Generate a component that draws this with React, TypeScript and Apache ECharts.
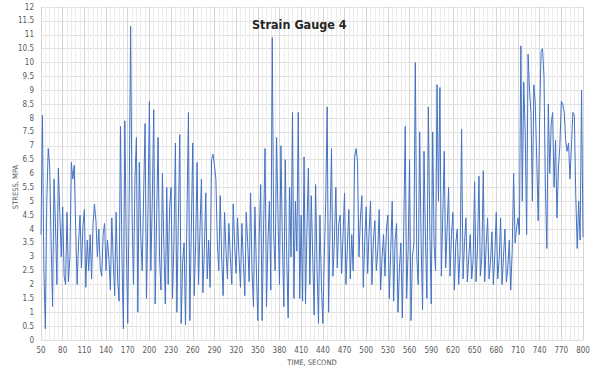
import React, { useEffect, useRef } from "react";
import * as echarts from "echarts";

// Time starts at 50 s, one reading every 2 s, up to 800 s
const startTime = 50;
const stepSeconds = 2;
const xTickLabels = [50, 80, 110, 140, 170, 200, 230, 260, 290, 320, 350, 380, 410, 440, 470, 500, 530, 560, 590, 620, 650, 680, 710, 740, 770, 800];
const yMax = 12;

// Stress (MPa), 2-second resolution
const stress = [
  // 50-78
  3.8, 8.1, 2.5, 0.4, 5.0, 6.9, 6.3, 3.5, 1.2, 5.8, 4.2, 2.0, 6.2, 4.6, 3.0,
  // 80-108
  4.8, 2.3, 2.0, 4.6, 2.1, 3.0, 6.4, 5.8, 6.3, 4.0, 2.0, 3.5, 4.5, 2.6, 4.1,
  // 110-138
  4.7, 1.9, 3.6, 2.5, 3.8, 2.2, 4.2, 4.9, 4.3, 3.0, 4.0, 2.6, 2.3, 3.8, 4.2,
  // 140-168
  2.5, 3.6, 2.9, 1.8, 4.4, 2.8, 1.6, 4.6, 2.2, 1.4, 7.7, 3.0, 0.4, 7.9, 3.5,
  // 170-198
  0.6, 5.0, 11.3, 4.6, 2.0, 5.8, 7.3, 1.0, 6.4, 3.8, 2.5, 5.2, 7.8, 1.5, 4.6,
  // 200-228
  8.6, 2.5, 5.0, 8.3, 1.3, 4.4, 7.3, 3.0, 1.8, 6.0, 3.4, 1.3, 5.5, 2.0, 4.8,
  // 230-258
  5.5, 1.5, 3.6, 7.1, 1.0, 4.2, 7.4, 0.6, 2.8, 3.5, 0.55, 4.5, 8.2, 0.7, 4.0,
  // 260-288
  7.1, 1.6, 3.5, 6.4, 2.0, 4.0, 5.8, 1.7, 3.2, 5.3, 2.2, 3.6, 1.9, 6.5, 6.7,
  // 290-318
  6.3, 5.8, 3.5, 2.5, 5.2, 3.0, 1.6, 4.6, 3.2, 2.2, 4.2, 3.0, 2.0, 4.9, 3.4,
  // 320-348
  2.4, 4.4, 3.0, 1.9, 4.2, 2.8, 1.6, 4.6, 3.5, 2.1, 5.3, 2.5, 1.2, 4.8, 2.6,
  // 350-378
  0.7, 3.8, 5.6, 0.7, 4.0, 6.9, 1.2, 3.5, 5.0, 1.8, 10.9, 3.8, 2.5, 7.3, 4.4,
  // 380-408
  2.0, 7.0, 3.6, 1.2, 6.5, 3.0, 0.8, 5.5, 3.0, 8.2, 1.5, 5.0, 3.2, 8.2, 1.5,
  // 410-438
  4.5, 1.4, 6.6, 1.3, 4.0, 6.2, 2.0, 5.2, 3.0, 0.9, 5.6, 2.5, 0.6, 4.5, 2.0,
  // 440-468
  0.6, 3.0, 5.0, 8.4, 1.0, 4.2, 6.9, 2.3, 3.6, 5.5, 2.6, 4.2, 4.5, 2.4, 3.8,
  // 470-498
  5.3, 2.0, 3.4, 4.7, 2.2, 3.8, 2.5, 6.6, 6.9, 6.4, 3.0, 4.4, 5.2, 1.9, 3.6,
  // 500-528
  4.8, 2.4, 3.9, 5.0, 2.0, 3.6, 4.3, 2.5, 3.2, 4.7, 1.8, 3.0, 3.8, 2.3, 4.0,
  // 530-558
  4.5, 1.5, 3.3, 5.0, 1.4, 3.6, 4.2, 1.0, 2.6, 3.5, 0.8, 4.0, 7.7, 1.5, 3.2,
  // 560-588
  6.5, 0.7, 3.0, 3.5, 10.0, 3.0, 2.0, 7.5, 3.5, 1.1, 6.8, 3.6, 1.5, 8.4, 4.0,
  // 590-618
  1.3, 7.5, 3.4, 2.5, 9.2, 5.0, 9.1, 2.3, 4.5, 6.8, 2.6, 4.0, 5.5, 2.3, 3.8,
  // 620-648
  4.6, 1.8, 3.5, 4.0, 2.0, 3.2, 7.6, 2.2, 3.5, 4.4, 2.1, 3.0, 3.8, 2.2, 2.9,
  // 650-678
  5.7, 2.1, 3.3, 5.9, 2.3, 3.0, 6.1, 2.1, 3.4, 4.4, 2.2, 2.8, 3.9, 2.0, 3.1,
  // 680-708
  4.6, 2.2, 2.9, 4.4, 2.0, 3.0, 4.0, 2.1, 2.6, 3.6, 1.8, 3.2, 6.0, 3.5, 4.0,
  // 710-738
  4.4, 3.8, 10.6, 5.0, 9.3, 7.5, 3.8, 10.3, 9.0, 8.2, 5.0, 9.2, 8.5, 6.5, 4.3,
  // 740-768
  8.0, 10.4, 10.5, 9.5, 5.5, 3.3, 8.5, 6.0, 7.8, 8.2, 5.5, 7.2, 4.4, 6.2, 7.0,
  // 770-798
  8.6, 8.5, 8.2, 7.2, 6.8, 7.1, 5.8, 7.0, 8.2, 8.1, 5.2, 3.3, 5.0, 3.6, 9.0,
  // 800
  3.7,
];

const FONT = "'Liberation Sans Narrow', 'DejaVu Sans Condensed', 'Liberation Sans', sans-serif";

export default function App() {
  const ref = useRef<HTMLDivElement>(null);
  useEffect(() => {
    if (!ref.current) return;
    const chart = echarts.init(ref.current, undefined, { renderer: "svg" });
    // x is stored as seconds after the start time, so ticks fall on 0, 30, 60 ...
    const data = stress.map((v, i) => [i * stepSeconds, v]);
    const xSpan = xTickLabels[xTickLabels.length - 1] - startTime;
    chart.setOption({
      animation: false,
      backgroundColor: "#ffffff",
      title: {
        text: "Strain Gauge 4",
        left: 247,
        top: 13,
        textStyle: { fontSize: 12.5, fontWeight: "bold", color: "#262626", fontFamily: FONT },
      },
      grid: { left: 41, right: 17, top: 7, bottom: 35, containLabel: false },
      xAxis: {
        type: "value",
        min: 0,
        max: xSpan,
        interval: 30,
        axisLine: { show: false },
        axisTick: { show: false },
        axisLabel: {
          fontSize: 8,
          color: "#595959",
          margin: 6,
          fontFamily: FONT,
          formatter: (v: number) => String(v + startTime),
        },
        splitLine: { show: true, lineStyle: { color: "#d6d6d6", width: 1 } },
        minorSplitLine: { show: true, lineStyle: { color: "#ececec", width: 1 } },
        minorTick: { show: false, splitNumber: 5 },
      },
      yAxis: {
        type: "value",
        min: 0,
        max: yMax,
        interval: 0.5,
        axisLine: { show: false },
        axisTick: { show: false },
        axisLabel: { fontSize: 8, color: "#595959", margin: 7, fontFamily: FONT },
        splitLine: { show: true, lineStyle: { color: "#e0e0e0", width: 1 } },
      },
      graphic: [
        {
          type: "text",
          x: 15,
          y: 187,
          rotation: Math.PI / 2,
          style: {
            text: "STRESS, MPA",
            fontSize: 7.5,
            fill: "#595959",
            fontFamily: FONT,
            textAlign: "center",
            textVerticalAlign: "middle",
          },
        },
        {
          type: "text",
          x: 312,
          y: 362,
          style: {
            text: "TIME, SECOND",
            fontSize: 7.5,
            fill: "#595959",
            fontFamily: FONT,
            textAlign: "center",
            textVerticalAlign: "middle",
          },
        },
      ],
      series: [
        {
          type: "line",
          data,
          showSymbol: false,
          symbol: "none",
          lineStyle: { color: "#4472c4", width: 1 },
          itemStyle: { color: "#4472c4" },
        },
      ],
    });
    return () => chart.dispose();
  }, []);
  return (
    <div
      ref={ref}
      style={{ position: "fixed", left: 0, top: 0, width: 600, height: 375 }}
    />
  );
}
